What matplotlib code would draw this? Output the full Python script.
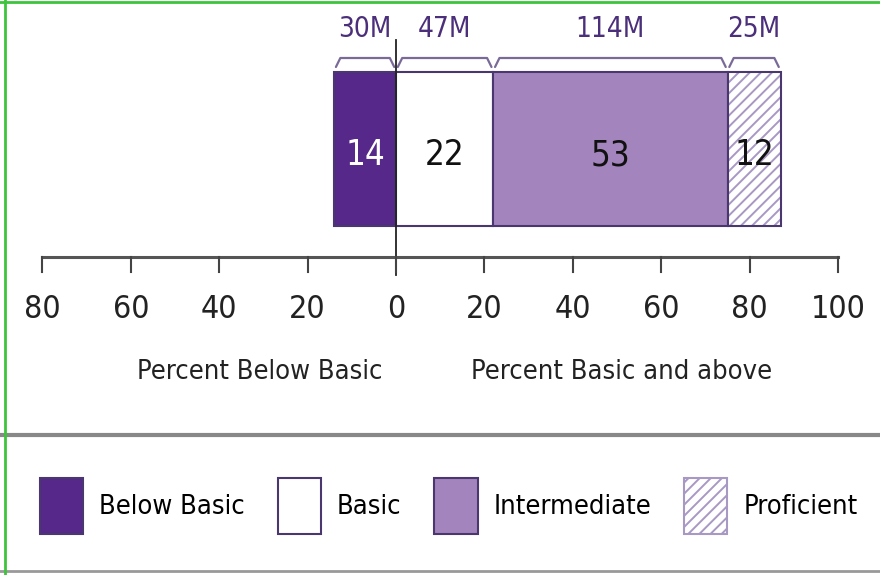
import matplotlib
matplotlib.use("Agg")
import matplotlib.pyplot as plt
from matplotlib.patches import Patch
from matplotlib.lines import Line2D

plt.rcParams['font.family'] = ['DejaVu Sans']
plt.rcParams['font.stretch'] = 'condensed'
plt.rcParams['hatch.linewidth'] = 1.4

# data
categories = ['Below Basic', 'Basic', 'Intermediate', 'Proficient']
percents = [14, 22, 53, 12]
millions = ['30M', '47M', '114M', '25M']
tick_values = [-80, -60, -40, -20, 0, 20, 40, 60, 80, 100]

dark = '#55288a'
mid = '#a484bc'
edge = '#4a3770'
hatch_col = '#a898c4'

fig = plt.figure(figsize=(8.8, 5.75), dpi=100)
ax = fig.add_axes([0, 0, 1, 1])
# x in percent, y in pixel-ish units (top = 0)
ax.set_xlim(-89.6, 109.5)
ax.set_ylim(575, 0)

lefts = [-percents[0], 0, percents[1], percents[1] + percents[2]]
bar_y, bar_h = 149, 154

ax.barh(bar_y, percents[0], left=lefts[0], height=bar_h, color=dark, edgecolor=edge, lw=1.5)
ax.barh(bar_y, percents[1], left=lefts[1], height=bar_h, color='white', edgecolor=edge, lw=1.5)
ax.barh(bar_y, percents[2], left=lefts[2], height=bar_h, color=mid, edgecolor=edge, lw=1.5)
ax.barh(bar_y, percents[3], left=lefts[3], height=bar_h, color='white', edgecolor=hatch_col, lw=0, hatch='///')
ax.barh(bar_y, percents[3], left=lefts[3], height=bar_h, fill=False, edgecolor=edge, lw=1.5)

txt_colors = ['white', '#111111', '#111111', '#111111']
for l, p, c in zip(lefts, percents, txt_colors):
    ax.text(l + p / 2, bar_y + 6, str(p), ha='center', va='center', fontsize=25, color=c)

# braces and population labels
for l, p, m in zip(lefts, percents, millions):
    a, b = l + 0.4, l + p - 0.4
    xs = [a, a + 1.0, b - 1.0, b]
    ys = [67, 58, 58, 67]
    ax.plot(xs, ys, color='#7a6a98', lw=1.6, solid_capstyle='round')
    ax.text(l + p / 2, 29, m, ha='center', va='center', fontsize=20, color='#4b2f7a')

# zero line
ax.plot([0, 0], [40, 275], color='#222222', lw=1.3)

# axis line and ticks
ax.plot([tick_values[0], tick_values[-1]], [257, 257], color='#555555', lw=2.2)
for t in tick_values:
    ax.plot([t, t], [257, 272], color='#444444', lw=1.5)
    ax.text(t, 310, str(abs(t)), ha='center', va='center', fontsize=23, color='#222222')

ax.text(-30.8, 372, 'Percent Below Basic', ha='center', va='center', fontsize=19.5, color='#222222')
ax.text(51, 372, 'Percent Basic and above', ha='center', va='center', fontsize=19.5, color='#222222')

ax.axis('off')

# frame decorations
fig.add_artist(Line2D([0, 1], [1 - 435 / 575] * 2, color='#888888', lw=3))
fig.add_artist(Line2D([0, 1], [1 - 571 / 575] * 2, color='#999999', lw=2))
fig.add_artist(Line2D([0.006, 0.006], [0, 1], color='#3cc43c', lw=2))
fig.add_artist(Line2D([0, 1], [0.996, 0.996], color='#3cc43c', lw=2))

# legend
handles = [
    Patch(facecolor=dark, edgecolor=edge, lw=1.5),
    Patch(facecolor='white', edgecolor=edge, lw=1.5),
    Patch(facecolor=mid, edgecolor=edge, lw=1.5),
    Patch(facecolor='white', edgecolor=hatch_col, hatch='///', lw=1.5),
]
fig.legend(handles, categories, loc='center', bbox_to_anchor=(0.51, 1 - 506 / 575),
           ncol=4, frameon=False, fontsize=19.5, handlelength=1.6, handleheight=2.8,
           columnspacing=1.2, handletextpad=0.6)

fig.savefig('out.png', dpi=100)
